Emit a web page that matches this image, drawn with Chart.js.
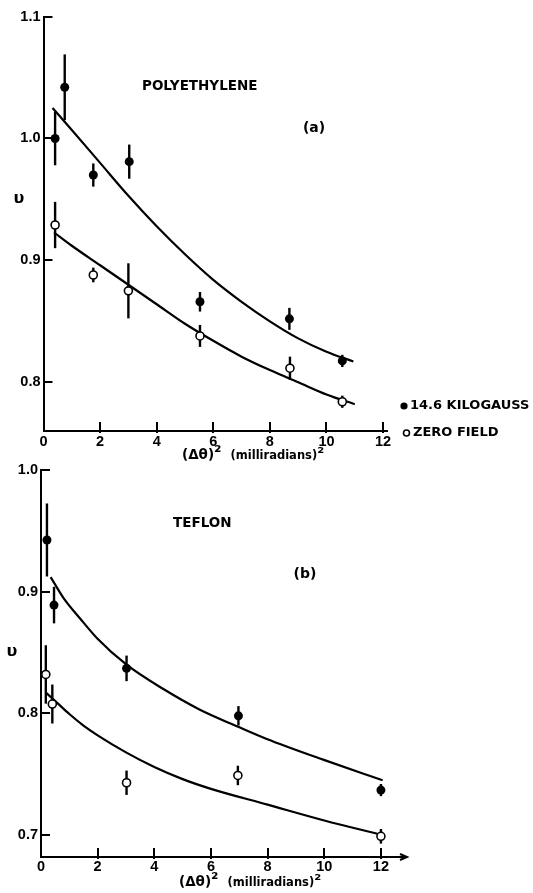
<!DOCTYPE html>
<html>
<head>
<meta charset="utf-8">
<script src="https://cdn.jsdelivr.net/npm/chart.js@4.4.1/dist/chart.umd.min.js"></script>
<style>
  html, body { margin: 0; padding: 0; background: #fff; width: 533px; height: 893px; overflow: hidden; }
  .panel { position: absolute; left: 0; }
  #polyWrap { top: 0; }
  #teflonWrap { top: 445px; }
</style>
</head>
<body>
<div class="panel" id="polyWrap"><canvas id="poly" width="533" height="470"></canvas></div>
<div class="panel" id="teflonWrap"><canvas id="teflon" width="533" height="448"></canvas></div>
<script>
// ---- (a) Polyethylene ----
const polyFieldX   = [0.41, 0.75, 1.76, 3.03, 5.53, 8.69, 10.56];
const polyFieldV   = [1.000, 1.042, 0.970, 0.981, 0.866, 0.852, 0.8175];
const polyFieldErr = [0.022, 0.027, 0.0095, 0.014, 0.008, 0.009, 0.005];

const polyZeroX   = [0.41, 1.76, 3.00, 5.53, 8.71, 10.56];
const polyZeroV   = [0.929, 0.888, 0.875, 0.838, 0.8115, 0.784];
const polyZeroErr = [0.019, 0.006, 0.0226, 0.009, 0.0095, 0.005];

// fitted curves
const polyFieldFitX = [0.32, 1.0, 2.0, 3.0, 4.0, 5.0, 6.0, 7.0, 8.0, 9.0, 10.0, 10.95];
const polyFieldFitV = [1.025, 1.007, 0.980, 0.953, 0.928, 0.905, 0.884, 0.866, 0.850, 0.836, 0.825, 0.817];
const polyZeroFitX  = [0.37, 1.0, 2.0, 3.0, 4.0, 5.0, 6.0, 7.0, 8.0, 9.0, 10.0, 11.0];
const polyZeroFitV  = [0.923, 0.912, 0.896, 0.880, 0.864, 0.848, 0.834, 0.821, 0.810, 0.800, 0.790, 0.782];

// ---- (b) Teflon ----
const teflonFieldX   = [0.21, 0.46, 3.02, 6.97, 12.0];
const teflonFieldV   = [0.9425, 0.889, 0.837, 0.798, 0.737];
const teflonFieldErr = [0.030, 0.015, 0.0105, 0.008, 0.005];

const teflonZeroX   = [0.17, 0.40, 3.02, 6.95, 12.0];
const teflonZeroV   = [0.832, 0.8077, 0.743, 0.749, 0.699];
const teflonZeroErr = [0.024, 0.016, 0.010, 0.008, 0.006];

const teflonFieldFitX = [0.34, 0.79, 1.38, 1.97, 3.02, 4.32, 5.61, 6.96, 7.97, 9.96, 12.06];
const teflonFieldFitV = [0.912, 0.895, 0.878, 0.862, 0.840, 0.820, 0.803, 0.789, 0.779, 0.762, 0.745];
const teflonZeroFitX  = [0.18, 0.6, 1.0, 1.5, 2.0, 3.0, 4.0, 5.0, 6.0, 8.0, 10.0, 12.06];
const teflonZeroFitV  = [0.817, 0.808, 0.7995, 0.790, 0.782, 0.768, 0.756, 0.746, 0.738, 0.725, 0.712, 0.700];

// ---- axis ticks ----
const xTickValues       = [0, 2, 4, 6, 8, 10, 12];
const polyYTickValues   = [0.8, 0.9, 1.0, 1.1];
const teflonYTickValues = [0.7, 0.8, 0.9, 1.0];

// ---- labels ----
const yAxisSymbol = 'υ';
const xTitleMain  = '(Δθ)';
const xTitleUnit  = '(milliradians)';
const squared     = '²';
const legendField = '14.6 KILOGAUSS';
const legendZero  = 'ZERO FIELD';

const INK = '#000';
const WORD_FONT = '"DejaVu Sans", sans-serif';
const NUM_FONT = '"Liberation Sans", Arial, sans-serif';

const pts = (xs, vs) => xs.map((x, i) => ({ x, y: vs[i] }));

// vertical error bars, drawn beneath the markers
const errorBars = {
  id: 'errorBars',
  beforeDatasetsDraw(chart) {
    const { ctx, scales: { x, y } } = chart;
    ctx.save();
    ctx.strokeStyle = INK;
    ctx.lineWidth = 2.4;
    ctx.lineCap = 'butt';
    chart.data.datasets.forEach(ds => {
      if (!ds.errors) return;
      ds.data.forEach((p, i) => {
        const px = x.getPixelForValue(p.x);
        ctx.beginPath();
        ctx.moveTo(px, y.getPixelForValue(p.y + ds.errors[i]));
        ctx.lineTo(px, y.getPixelForValue(p.y - ds.errors[i]));
        ctx.stroke();
      });
    });
    ctx.restore();
  }
};

// tick marks pointing into the plot, plus free text and legend
const decorations = {
  id: 'decorations',
  afterDraw(chart, args, opts) {
    const { ctx, chartArea, scales: { x, y } } = chart;
    ctx.save();
    ctx.strokeStyle = INK;
    ctx.fillStyle = INK;
    ctx.lineWidth = 2;
    x.ticks.forEach(t => {
      if (t.value === 0) return;
      const px = Math.round(x.getPixelForValue(t.value));
      ctx.beginPath();
      ctx.moveTo(px, chartArea.bottom + 2);
      ctx.lineTo(px, chartArea.bottom - 9);
      ctx.stroke();
    });
    y.ticks.forEach(t => {
      const py = Math.round(y.getPixelForValue(t.value));
      ctx.beginPath();
      ctx.moveTo(chartArea.left, py);
      ctx.lineTo(chartArea.left + 9, py);
      ctx.stroke();
    });
    if (opts.arrow) {
      const ax = chartArea.right + 1, ay = chartArea.bottom;
      ctx.beginPath();
      ctx.moveTo(ax - 6, ay - 3);
      ctx.lineTo(ax + 1, ay);
      ctx.lineTo(ax - 6, ay + 3);
      ctx.stroke();
    }
    ctx.textBaseline = 'middle';
    (opts.texts || []).forEach(t => {
      // a text item is a run of pieces laid out left to right
      ctx.textAlign = 'left';
      const pieces = t.runs || [{ text: t.text, font: t.font }];
      let total = 0;
      pieces.forEach(p => { ctx.font = p.font; total += ctx.measureText(p.text).width + (p.gap || 0); });
      let cx = t.align === 'center' ? t.x - total / 2 : t.x;
      pieces.forEach(p => {
        ctx.font = p.font;
        ctx.fillText(p.text, cx, t.y + (p.dy || 0));
        cx += ctx.measureText(p.text).width + (p.gap || 0);
      });
    });
    (opts.legend || []).forEach(l => {
      ctx.beginPath();
      ctx.arc(l.mx, l.y, l.r, 0, Math.PI * 2);
      if (l.filled) { ctx.fill(); } else { ctx.lineWidth = 1.6; ctx.stroke(); }
      ctx.font = 'bold 13px ' + WORD_FONT;
      ctx.textAlign = 'left';
      ctx.fillText(l.text, l.tx, l.y);
    });
    ctx.restore();
  }
};

function xTitle(x, y) {
  return {
    x, y,
    runs: [
      { text: xTitleMain, font: 'bold 13.5px ' + WORD_FONT },
      { text: squared, font: 'bold 17px ' + WORD_FONT, dy: -1, gap: 9 },
      { text: xTitleUnit, font: 'bold 11.5px ' + WORD_FONT, dy: 1 },
      { text: squared, font: 'bold 16px ' + WORD_FONT, dy: -1 }
    ]
  };
}

function panel(canvasId, cfg) {
  const filledStyle = { pointRadius: 4.5, pointBackgroundColor: INK, pointBorderWidth: 0, showLine: false };
  const openStyle = { pointRadius: 4, pointBackgroundColor: '#fff', pointBorderColor: INK, pointBorderWidth: 1.6, showLine: false };
  const curveStyle = { pointRadius: 0, showLine: true, borderColor: INK, borderWidth: 2.2, cubicInterpolationMode: 'monotone', fill: false };
  return new Chart(document.getElementById(canvasId), {
    type: 'scatter',
    data: {
      datasets: [
        Object.assign({ label: legendField, data: pts(cfg.fieldX, cfg.fieldV), errors: cfg.fieldErr }, filledStyle),
        Object.assign({ label: legendZero, data: pts(cfg.zeroX, cfg.zeroV), errors: cfg.zeroErr }, openStyle),
        Object.assign({ label: 'fit, field on', data: pts(cfg.fieldFitX, cfg.fieldFitV) }, curveStyle),
        Object.assign({ label: 'fit, zero field', data: pts(cfg.zeroFitX, cfg.zeroFitV) }, curveStyle)
      ]
    },
    options: {
      responsive: false,
      animation: false,
      events: [],
      layout: { padding: cfg.padding },
      plugins: {
        legend: { display: false },
        tooltip: { enabled: false },
        decorations: { texts: cfg.texts, legend: cfg.legend, arrow: cfg.arrow }
      },
      scales: {
        x: {
          type: 'linear',
          min: 0,
          max: cfg.xMax,
          afterBuildTicks: s => { s.ticks = xTickValues.map(v => ({ value: v })); },
          afterFit: s => { s.height = cfg.xAxisHeight; },
          grid: { display: false, drawTicks: false },
          border: { display: true, color: INK, width: 2 },
          ticks: {
            color: INK, padding: cfg.xLabelPad, maxRotation: 0, autoSkip: false,
            font: { family: NUM_FONT, size: 14.5, weight: 'bold' },
            callback: v => String(v)
          }
        },
        y: {
          type: 'linear',
          min: cfg.yMin,
          max: cfg.yMax,
          afterBuildTicks: s => { s.ticks = cfg.yTicks.map(v => ({ value: v })); },
          afterFit: s => { s.width = cfg.yAxisWidth; },
          grid: { display: false, drawTicks: false },
          border: { display: true, color: INK, width: 2 },
          ticks: {
            color: INK, padding: 3,
            font: { family: NUM_FONT, size: 14.5, weight: 'bold' },
            callback: v => Number(v).toFixed(1)
          }
        }
      }
    },
    plugins: [errorBars, decorations]
  });
}

panel('poly', {
  fieldX: polyFieldX, fieldV: polyFieldV, fieldErr: polyFieldErr,
  zeroX: polyZeroX, zeroV: polyZeroV, zeroErr: polyZeroErr,
  fieldFitX: polyFieldFitX, fieldFitV: polyFieldFitV,
  zeroFitX: polyZeroFitX, zeroFitV: polyZeroFitV,
  xMax: 12.15, yMin: 0.76, yMax: 1.1, yTicks: polyYTickValues,
  padding: { left: 0, top: 16.6, right: 145.7, bottom: 0 },
  yAxisWidth: 43.5, xAxisHeight: 39, xLabelPad: 2,
  texts: [
    { text: 'POLYETHYLENE', x: 142, y: 86, font: 'bold 13.5px ' + WORD_FONT },
    { text: '(a)', x: 314, y: 128, font: 'bold 14px ' + WORD_FONT, align: 'center' },
    { text: yAxisSymbol, x: 19, y: 199, font: 'bold 16px ' + WORD_FONT, align: 'center' },
    xTitle(182, 455)
  ],
  legend: [
    { filled: true, mx: 404, r: 3.6, tx: 410, y: 406, text: legendField },
    { filled: false, mx: 406.5, r: 3, tx: 413, y: 433, text: legendZero }
  ],
  arrow: false
});

panel('teflon', {
  fieldX: teflonFieldX, fieldV: teflonFieldV, fieldErr: teflonFieldErr,
  zeroX: teflonZeroX, zeroV: teflonZeroV, zeroErr: teflonZeroErr,
  fieldFitX: teflonFieldFitX, fieldFitV: teflonFieldFitV,
  zeroFitX: teflonZeroFitX, zeroFitV: teflonZeroFitV,
  xMax: 12.85, yMin: 0.682, yMax: 1.0, yTicks: teflonYTickValues,
  padding: { left: 0, top: 25, right: 128, bottom: 0 },
  yAxisWidth: 41, xAxisHeight: 36, xLabelPad: 1,
  texts: [
    { text: 'TEFLON', x: 173, y: 78, font: 'bold 13.5px ' + WORD_FONT },
    { text: '(b)', x: 305, y: 129, font: 'bold 14px ' + WORD_FONT, align: 'center' },
    { text: yAxisSymbol, x: 12, y: 207, font: 'bold 16px ' + WORD_FONT, align: 'center' },
    xTitle(179, 437)
  ],
  legend: [],
  arrow: true
});
</script>
</body>
</html>
